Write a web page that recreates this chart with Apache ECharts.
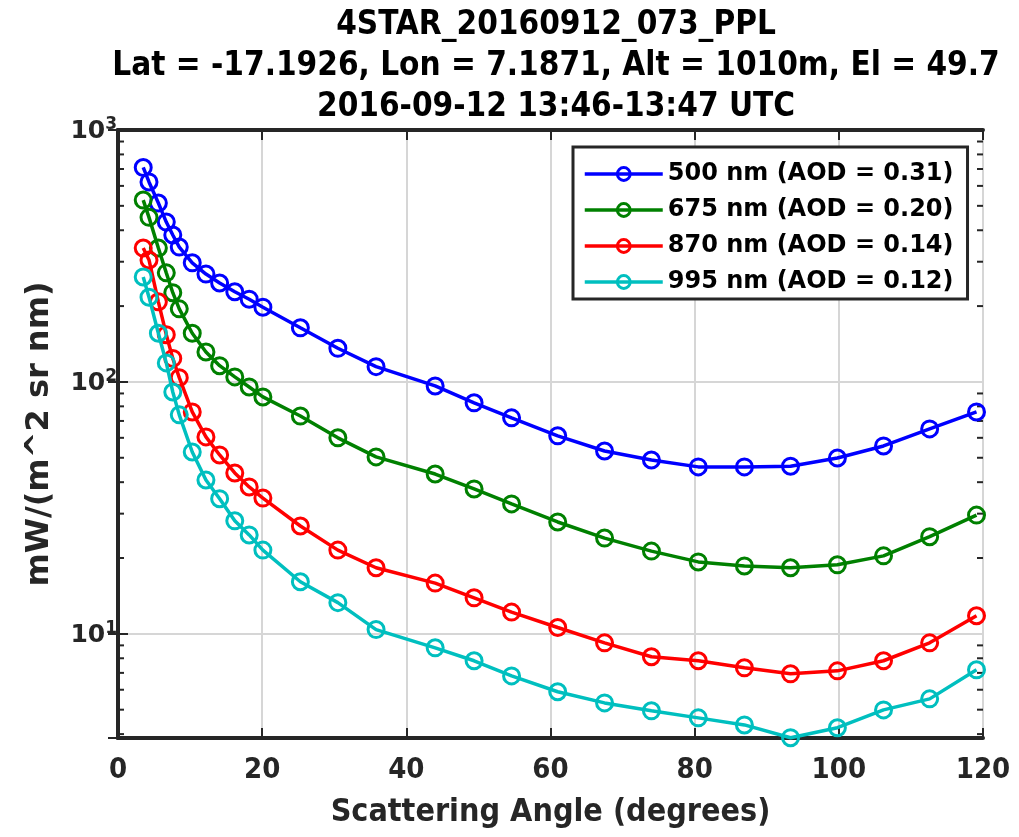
<!DOCTYPE html>
<html>
<head>
<meta charset="utf-8">
<script src="https://cdn.jsdelivr.net/npm/echarts@6/dist/echarts.min.js"></script>
<style>html,body{margin:0;padding:0;background:#fff}#c{width:1019px;height:837px}</style>
</head>
<body>
<div id="c"></div>
<script>
// Scattering angles (degrees)
var angles = [3.5, 4.3, 5.6, 6.7, 7.6, 8.5, 10.3, 12.2, 14.1, 16.2, 18.2, 20.1, 25.3, 30.5, 35.8, 44.0, 49.4, 54.6, 61.0, 67.5, 74.0, 80.5, 86.9, 93.3, 99.8, 106.2, 112.6, 119.1];
// Radiance values mW/(m^2 sr nm)
var rad500 = [710, 622, 513, 431, 383, 343, 297, 268, 247, 228, 213, 198, 164, 136, 115, 96.4, 82.6, 72.0, 61.1, 53.2, 49.0, 46.0, 46.0, 46.3, 49.9, 55.7, 65.1, 76.0];
var rad675 = [527, 450, 340, 271, 226, 195, 156, 131.5, 116, 104.7, 95.5, 87.2, 73.2, 60.0, 50.4, 43.1, 37.6, 32.8, 27.8, 24.0, 21.3, 19.3, 18.6, 18.3, 18.8, 20.4, 24.3, 29.6];
var rad870 = [340, 305, 208, 154, 124, 104, 76.0, 60.5, 51.3, 43.5, 38.3, 34.6, 26.8, 21.5, 18.3, 15.9, 13.9, 12.2, 10.6, 9.21, 8.11, 7.82, 7.33, 6.94, 7.13, 7.82, 9.21, 11.8];
var rad995 = [261, 217, 156, 119, 91.2, 74.0, 52.7, 40.8, 34.4, 28.1, 24.7, 21.5, 16.1, 13.3, 10.4, 8.80, 7.82, 6.81, 5.89, 5.32, 4.95, 4.64, 4.35, 3.87, 4.24, 4.99, 5.52, 7.20];
var seriesNames = ['500 nm (AOD = 0.31)', '675 nm (AOD = 0.20)', '870 nm (AOD = 0.14)', '995 nm (AOD = 0.12)'];
var seriesColors = ['#0000ff', '#008000', '#ff0000', '#00bfbf'];
var titleLines = ['4STAR_20160912_073_PPL', 'Lat = -17.1926, Lon = 7.1871, Alt = 1010m, El = 49.7', '2016-09-12 13:46-13:47 UTC'];
var xTicks = [0, 20, 40, 60, 80, 100, 120];
var yMajor = [10, 100, 1000];
var yMinor = [4, 5, 6, 7, 8, 9, 20, 30, 40, 50, 60, 70, 80, 90, 200, 300, 400, 500, 600, 700, 800, 900];

var axisColor = '#262626';
var narrow = "'Liberation Sans Narrow', 'DejaVu Sans Condensed', sans-serif";
var texFont = "'DejaVu Sans', Verdana, sans-serif";
var XMIN = xTicks[0], XMAX = xTicks[xTicks.length - 1], YMIN = 3.86, YMAX = yMajor[yMajor.length - 1];

var allData = [rad500, rad675, rad870, rad995];
var series = allData.map(function (vals, i) {
  return {
    name: seriesNames[i],
    type: 'line',
    data: angles.map(function (a, j) { return [a, vals[j]]; }),
    symbol: 'circle',
    symbolSize: 16,
    showAllSymbol: true,
    clip: false,
    lineStyle: { color: seriesColors[i], width: 3.5 },
    itemStyle: { color: 'rgba(255,255,255,0)', borderColor: seriesColors[i], borderWidth: 3 },
    color: seriesColors[i],
    z: 5 + i,
    animation: false
  };
});

series.push({
  type: 'custom',
  name: 'minorTicks',
  data: yMinor.map(function (v) { return [XMIN, v]; }),
  renderItem: function (params, api) {
    var v = api.value(1);
    var l = api.coord([XMIN, v]);
    var r = api.coord([XMAX, v]);
    return {
      type: 'group',
      children: [
        { type: 'line', shape: { x1: l[0], y1: l[1], x2: l[0] + 6, y2: l[1] }, style: { stroke: axisColor, lineWidth: 2 } },
        { type: 'line', shape: { x1: r[0], y1: r[1], x2: r[0] - 6, y2: r[1] }, style: { stroke: axisColor, lineWidth: 2 } }
      ]
    };
  },
  z: 3,
  silent: true,
  animation: false
});

var chart = echarts.init(document.getElementById('c'), null, { renderer: 'canvas' });
chart.setOption({
  backgroundColor: '#fff',
  animation: false,
  title: {
    text: titleLines.join('\n'),
    left: 551,
    top: 0,
    textAlign: 'center',
    textStyle: { fontFamily: narrow, fontWeight: 'bold', fontSize: 33, lineHeight: 41, color: '#000' }
  },
  grid: { left: 118, right: 36, top: 130, bottom: 99, containLabel: false },
  legend: {
    data: seriesNames,
    orient: 'vertical',
    left: 573,
    top: 147,
    padding: [14, 14, 4, 10],
    itemWidth: 78,
    itemHeight: 16,
    itemGap: 10,
    backgroundColor: '#fff',
    borderColor: axisColor,
    borderWidth: 3,
    borderRadius: 0,
    lineStyle: { width: 3.5 },
    itemStyle: { borderWidth: 3 },
    textStyle: { fontFamily: texFont, fontWeight: 'bold', fontSize: 24, lineHeight: 26, color: '#000' },
    z: 20
  },
  xAxis: [{
    type: 'value', min: XMIN, max: XMAX, interval: 20,
    position: 'bottom',
    name: 'Scattering Angle (degrees)',
    nameLocation: 'middle', nameGap: 59,
    nameTextStyle: { fontFamily: narrow, fontWeight: 'bold', fontSize: 32, color: axisColor },
    axisLine: { show: true, lineStyle: { color: axisColor, width: 4 } },
    axisTick: { show: true, inside: true, length: 10, lineStyle: { color: axisColor, width: 2 } },
    axisLabel: { fontFamily: narrow, fontWeight: 'bold', fontSize: 29, color: axisColor, margin: 18 },
    splitLine: { show: true, lineStyle: { color: '#d6d6d6', width: 2 } }
  }, {
    type: 'value', min: XMIN, max: XMAX, interval: 20,
    position: 'top',
    axisLine: { show: true, lineStyle: { color: axisColor, width: 4 } },
    axisTick: { show: true, inside: true, length: 10, lineStyle: { color: axisColor, width: 2 } },
    axisLabel: { show: false },
    splitLine: { show: false }
  }],
  yAxis: [{
    type: 'log', logBase: 10, min: YMIN, max: YMAX,
    position: 'left',
    name: 'mW/(m^2 sr nm)',
    nameLocation: 'middle', nameGap: 62, nameRotate: 90,
    nameTextStyle: { fontFamily: texFont, fontWeight: 'bold', fontSize: 32, color: axisColor },
    axisLine: { show: true, lineStyle: { color: axisColor, width: 4 } },
    axisTick: { show: true, inside: true, length: 10, lineStyle: { color: axisColor, width: 2 } },
    axisLabel: {
      showMinLabel: false,
      margin: 1,
      formatter: function (v) {
        var e = Math.round(Math.log10(v));
        if (yMajor.indexOf(Math.round(v)) < 0) return '';
        return '{b|10}{s|' + e + '}';
      },
      rich: {
        b: { fontFamily: texFont, fontWeight: 'bold', fontSize: 25, color: axisColor, verticalAlign: 'bottom', lineHeight: 28, padding: [8, 0, 0, 0] },
        s: { fontFamily: texFont, fontWeight: 'bold', fontSize: 17, color: axisColor, verticalAlign: 'top', padding: [0, 0, 8, 0], lineHeight: 28 }
      }
    },
    splitLine: { show: true, lineStyle: { color: '#d6d6d6', width: 2 } }
  }, {
    type: 'log', logBase: 10, min: YMIN, max: YMAX,
    position: 'right',
    axisLine: { show: true, lineStyle: { color: axisColor, width: 4 } },
    axisTick: { show: true, inside: true, length: 10, lineStyle: { color: axisColor, width: 2 } },
    axisLabel: { show: false },
    splitLine: { show: false }
  }],
  series: series
});
</script>
</body>
</html>
